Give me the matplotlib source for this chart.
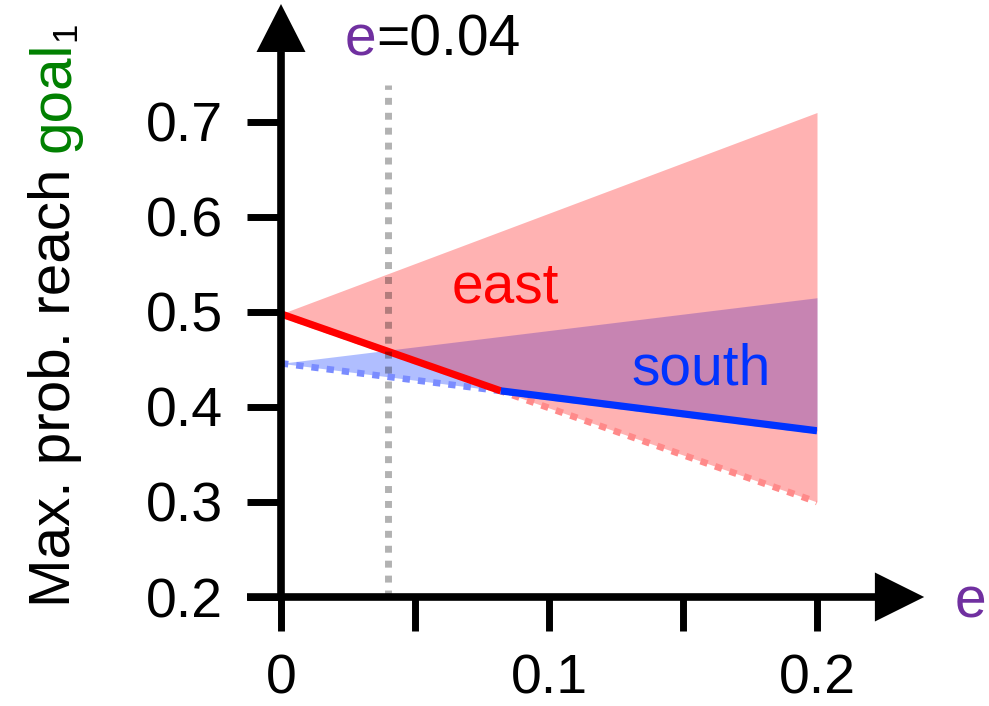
import matplotlib
matplotlib.use('Agg')
import matplotlib.pyplot as plt

plt.rcParams['font.family'] = ['Liberation Sans', 'DejaVu Sans']

# ---------------- data ----------------
e_bounds = [0.0, 0.2]
east_upper = [0.498, 0.710]
east_lower = [0.498, 0.300]
south_upper = [0.446, 0.515]
south_lower = [0.446, 0.375]
east_max_e = [0.0, 0.082]
east_max_p = [0.498, 0.417]
south_max_e = [0.082, 0.2]
south_max_p = [0.417, 0.375]
e_marker = 0.04
e_marker_top = 0.739
xticks = [0, 0.05, 0.1, 0.15, 0.2]
xticklabels = ['0', '', '0.1', '', '0.2']
yticks = [0.2, 0.3, 0.4, 0.5, 0.6, 0.7]
yticklabels = ['0.2', '0.3', '0.4', '0.5', '0.6', '0.7']

RED = '#ff0000'
BLUE = '#0033ff'
PURPLE = '#7030a0'
GREEN = '#008000'
FS = 41

W, H = 989, 706
fig = plt.figure(figsize=(W / 100, H / 100), dpi=100)
ax = fig.add_axes([281 / W, 109 / H, 536 / W, 475 / H])
ax.set_xlim(0, 0.2)
ax.set_ylim(0.2, 0.7)
for s in ax.spines.values():
    s.set_visible(False)

# bands
ax.fill_between(e_bounds, south_lower, south_upper, color='#0030ff', alpha=0.31, lw=0,
                zorder=1, clip_on=False)
ax.fill_between(e_bounds, east_lower, east_upper, color=RED, alpha=0.3, lw=0,
                zorder=2, clip_on=False)

# dotted lower bounds
ax.plot(e_bounds, south_lower, color='#7a8cff', lw=4.8, ls=(0, (1.1, 1.2)), zorder=3)
ax.plot(e_bounds, east_lower, color='#ff8a8a', lw=4.8, ls=(0, (1.1, 1.2)), zorder=3)

# max lines
ax.plot(east_max_e, east_max_p, color=RED, lw=5.2, solid_capstyle='butt', zorder=4)
ax.plot(south_max_e, south_max_p, color=BLUE, lw=5.2, solid_capstyle='butt', zorder=4)

# vertical marker
ax.plot([e_marker, e_marker], [0.2, e_marker_top], color='black', alpha=0.3, lw=5,
        ls=(0, (1, 1.15)), clip_on=False, zorder=5)

# axes lines + arrows
x0, x1 = ax.get_xlim()
y0, y1 = ax.get_ylim()
xr, yr = x1 - x0, y1 - y0
ax.plot([x0 - 0.0635 * xr, x1 + 0.108 * xr], [y0, y0], color='k', lw=5.5,
        solid_capstyle='butt', clip_on=False, zorder=6)
ax.fill([x1 + 0.108 * xr, x1 + 0.2 * xr, x1 + 0.108 * xr],
        [y0 - 0.0516 * yr, y0, y0 + 0.0516 * yr], color='k', lw=0, clip_on=False, zorder=6)
ax.plot([x0, x0], [y0, y1 + 0.1474 * yr], color='k', lw=5.5,
        solid_capstyle='butt', clip_on=False, zorder=6)
ax.fill([x0 - 0.0457 * xr, x0, x0 + 0.0457 * xr],
        [y1 + 0.1474 * yr, y1 + 0.2484 * yr, y1 + 0.1474 * yr], color='k', lw=0,
        clip_on=False, zorder=6)

ax.set_xticks(xticks)
ax.set_xticklabels(xticklabels)
ax.set_yticks(yticks)
ax.set_yticklabels(yticklabels)
ax.tick_params(axis='both', length=24.5, width=5, direction='out', labelsize=40, color='k')
ax.tick_params(axis='x', pad=16)
ax.tick_params(axis='y', pad=17)

# labels inside
ax.text(0.0638, 0.5105, 'east', color=RED, fontsize=FS, ha='left', va='baseline', zorder=7)
ax.text(0.1306, 0.4232, 'south', color=BLUE, fontsize=FS, ha='left', va='baseline', zorder=7)

t_e = ax.text(0.0239, 0.7705, 'e', color=PURPLE, fontsize=FS, ha='left', va='baseline',
              clip_on=False)
ax.annotate('=0.04', xy=(1, 0), xycoords=t_e, ha='left', va='bottom', fontsize=FS,
            color='k', annotation_clip=False)

ax.text(0.2515, 0.178, 'e', color=PURPLE, fontsize=FS, ha='left', va='baseline',
        clip_on=False)

# y label, built from pieces
fig.canvas.draw()
r = fig.canvas.get_renderer()
lx, ly = 70 / W, 99 / H
kw = dict(rotation=90, rotation_mode='anchor', va='baseline', fontsize=42)
t_full = fig.text(lx, ly, 'Max. prob. reach goal', ha='left', alpha=0, **kw)
fig.text(lx, ly, 'Max. prob. reach', ha='left', color='k', **kw)
bb = t_full.get_window_extent(r)
fig.text(lx, bb.y1 / H, 'goal', ha='right', color=GREEN, **kw)
fig.text(lx + 5 / W, (bb.y1 + 1) / H, '1', ha='left', color='k', rotation=90,
         rotation_mode='anchor', va='baseline', fontsize=25)

fig.savefig('out.png', dpi=100)
